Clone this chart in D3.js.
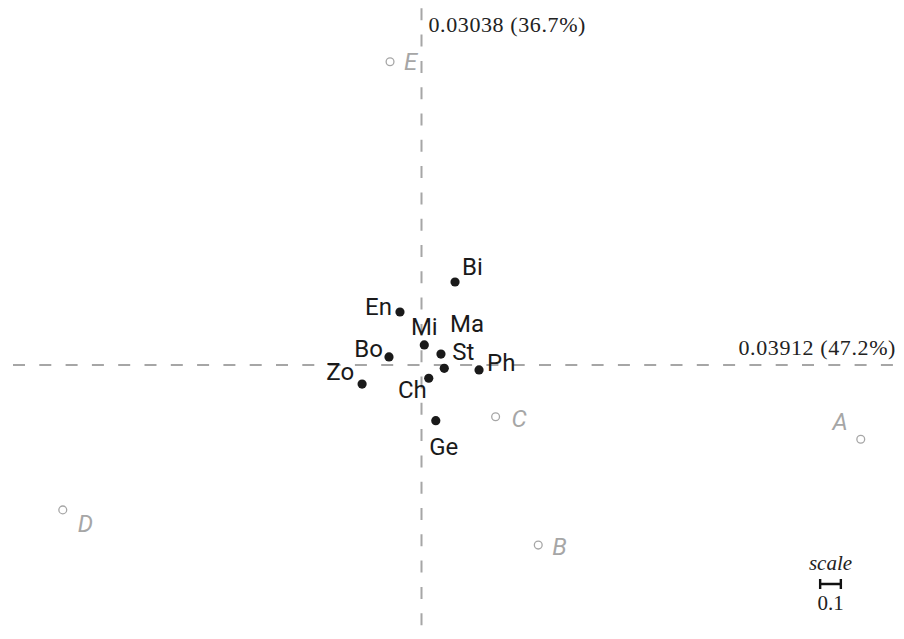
<!DOCTYPE html>
<html>
<head>
<meta charset="utf-8">
<script src="https://cdn.jsdelivr.net/npm/d3@7"></script>
<style>
  body { margin: 0; background: #fff; }
  svg { display: block; }
</style>
</head>
<body>
<svg width="904" height="639"></svg>
<script>
// active rows (black dots)
var rowNames = ['Bi', 'En', 'Mi', 'Ma', 'St', 'Ph', 'Ch', 'Ge', 'Bo', 'Zo'];
var rowX = [0.162, -0.104, 0.0135, 0.094, 0.110, 0.278, 0.035, 0.069, -0.157, -0.287];
var rowY = [0.401, 0.256, 0.097, 0.053, -0.016, -0.024, -0.064, -0.269, 0.039, -0.092];

// columns (grey open circles)
var colNames = ['A', 'B', 'C', 'D', 'E'];
var colX = [2.122, 0.564, 0.358, -1.733, -0.152];
var colY = [-0.359, -0.870, -0.250, -0.700, 1.465];

// principal inertias
var axisLabels = ['0.03912 (47.2%)', '0.03038 (36.7%)'];
var scaleLen = 0.1;
var scaleText = '0.1';

// label placement [dx, dy, anchor]
var labelPos = {
  Bi: [7, -7, 'start'], En: [-8, 3, 'end'], Mi: [0, -10, 'middle'],
  Ma: [9, -22, 'start'], St: [8, -8, 'start'], Ph: [8, 1, 'start'],
  Ch: [-2, 20, 'end'], Ge: [8, 34, 'middle'], Bo: [-6, 0, 'end'],
  Zo: [-8, -4, 'end'],
  A: [-13, -9, 'end'], B: [14, 10, 'start'], C: [16, 10, 'start'],
  D: [15, 22, 'start'], E: [14, 8, 'start']
};

var W = 904, H = 639;
var ppu = 207;
var ox = 421.5, oy = 365;

var x = d3.scaleLinear().domain([-ox / ppu, (W - ox) / ppu]).range([0, W]);
var y = d3.scaleLinear().domain([(oy - H) / ppu, oy / ppu]).range([H, 0]);

var svg = d3.select('svg');

var grey = '#a6a6a6';

// dashed axes
svg.append('line')
  .attr('x1', 0).attr('x2', W)
  .attr('y1', y(0)).attr('y2', y(0))
  .attr('stroke', grey)
  .attr('stroke-width', 2)
  .attr('stroke-dasharray', '12,14.3')
  .attr('stroke-dashoffset', 13.3);

svg.append('line')
  .attr('x1', x(0)).attr('x2', x(0))
  .attr('y1', 0).attr('y2', H)
  .attr('stroke', grey)
  .attr('stroke-width', 2)
  .attr('stroke-dasharray', '12,14.3')
  .attr('stroke-dashoffset', 18);

// axis inertia labels
svg.append('text')
  .text(axisLabels[0])
  .attr('x', 896)
  .attr('y', y(0) - 10)
  .attr('text-anchor', 'end')
  .attr('font-family', 'Liberation Serif')
  .attr('font-size', 22)
  .attr('letter-spacing', 0.6)
  .attr('fill', '#222');

svg.append('text')
  .text(axisLabels[1])
  .attr('x', x(0) + 7)
  .attr('y', 31.5)
  .attr('font-family', 'Liberation Serif')
  .attr('font-size', 22)
  .attr('letter-spacing', 0.6)
  .attr('fill', '#222');

// columns
var cols = colNames.map(function (n, i) { return { name: n, x: colX[i], y: colY[i] }; });

svg.selectAll('circle.col')
  .data(cols)
  .enter()
  .append('circle')
  .attr('class', 'col')
  .attr('cx', function (d) { return x(d.x); })
  .attr('cy', function (d) { return y(d.y); })
  .attr('r', 3.9)
  .attr('fill', 'none')
  .attr('stroke', grey)
  .attr('stroke-width', 1.3);

svg.selectAll('text.col')
  .data(cols)
  .enter()
  .append('text')
  .attr('class', 'col')
  .text(function (d) { return d.name; })
  .attr('x', function (d) { return x(d.x) + labelPos[d.name][0]; })
  .attr('y', function (d) { return y(d.y) + labelPos[d.name][1]; })
  .attr('text-anchor', function (d) { return labelPos[d.name][2]; })
  .attr('font-family', 'Roboto')
  .attr('font-style', 'italic')
  .attr('font-size', 24)
  .attr('fill', grey);

// rows
var rows = rowNames.map(function (n, i) { return { name: n, x: rowX[i], y: rowY[i] }; });

svg.selectAll('circle.row')
  .data(rows)
  .enter()
  .append('circle')
  .attr('class', 'row')
  .attr('cx', function (d) { return x(d.x); })
  .attr('cy', function (d) { return y(d.y); })
  .attr('r', 4.6)
  .attr('fill', '#1a1a1a');

svg.selectAll('text.row')
  .data(rows)
  .enter()
  .append('text')
  .attr('class', 'row')
  .text(function (d) { return d.name; })
  .attr('x', function (d) { return x(d.x) + labelPos[d.name][0]; })
  .attr('y', function (d) { return y(d.y) + labelPos[d.name][1]; })
  .attr('text-anchor', function (d) { return labelPos[d.name][2]; })
  .attr('font-family', 'Roboto')
  .attr('font-size', 24)
  .attr('fill', '#1a1a1a');

// scale bar
var sx = 830.5, sy = 584;
var half = (x(scaleLen) - x(0)) / 2;

svg.append('text')
  .text('scale')
  .attr('x', sx)
  .attr('y', 570)
  .attr('text-anchor', 'middle')
  .attr('font-family', 'Liberation Serif')
  .attr('font-style', 'italic')
  .attr('font-size', 21)
  .attr('fill', '#222');

svg.append('path')
  .attr('d', 'M' + (sx - half) + ',' + (sy - 5) + 'V' + (sy + 5) +
    'M' + (sx - half) + ',' + sy + 'H' + (sx + half) +
    'M' + (sx + half) + ',' + (sy - 5) + 'V' + (sy + 5))
  .attr('fill', 'none')
  .attr('stroke', '#111')
  .attr('stroke-width', 2.4);

svg.append('text')
  .text(scaleText)
  .attr('x', sx)
  .attr('y', 610)
  .attr('text-anchor', 'middle')
  .attr('font-family', 'Liberation Serif')
  .attr('font-size', 21)
  .attr('fill', '#222');
</script>
</body>
</html>
